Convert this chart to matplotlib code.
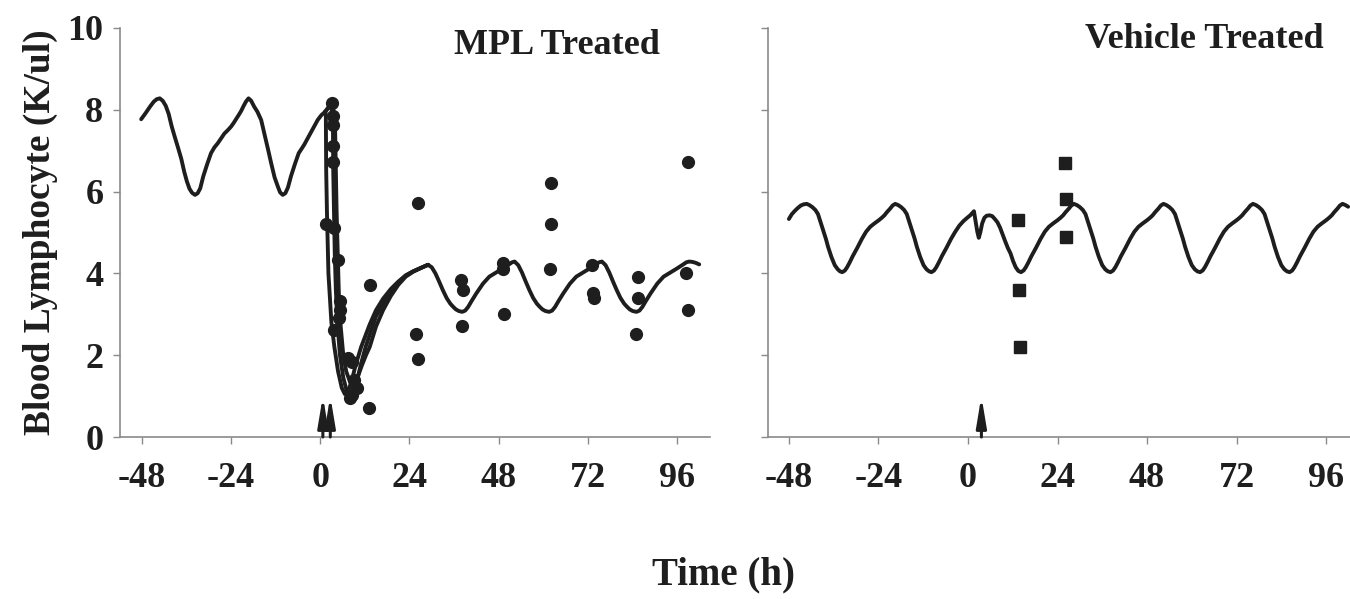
import matplotlib
matplotlib.use("Agg")
import matplotlib.pyplot as plt

plt.rcParams["font.family"] = ["Liberation Serif", "DejaVu Serif"]
plt.rcParams["font.weight"] = "bold"
plt.rcParams["axes.unicode_minus"] = False

# ---- MPL treated panel ----
# model fit before dosing (circadian baseline)
mpl_base_t = [-48.2, -47.0, -45.8, -44.8, -44.0, -43.2, -42.4, -41.6, -40.8, -40.0, -39.2, -38.3,
              -37.4, -36.6, -35.9, -35.2, -34.5, -33.7, -33.0, -32.3, -31.5, -30.4, -29.4,
              -28.5, -27.6, -26.7, -25.8, -24.9, -24.0, -23.3, -22.6, -21.9, -21.3, -20.6,
              -20.0, -19.3, -18.6, -17.8, -16.9, -15.9, -15.0, -14.1, -13.2, -12.3, -11.4,
              -10.8, -10.1, -9.4, -8.7, -7.9, -6.8, -5.8, -5.0, -4.3, -3.4, -2.5, -1.6, -0.7,
              0.3, 1.3]
mpl_base_y = [7.77, 7.92, 8.08, 8.2, 8.26, 8.28, 8.22, 8.1, 7.9, 7.6, 7.35, 7.08,
              6.8, 6.48, 6.25, 6.07, 5.97, 5.92, 5.96, 6.08, 6.37, 6.68, 6.94,
              7.08, 7.18, 7.3, 7.42, 7.5, 7.59, 7.68, 7.78, 7.88, 7.97, 8.1,
              8.2, 8.28, 8.22, 8.08, 7.95, 7.75, 7.4, 7.05, 6.69, 6.35, 6.12,
              5.98, 5.92, 5.96, 6.1, 6.37, 6.68, 6.94, 7.05, 7.15, 7.3, 7.45, 7.6, 7.75,
              7.87, 7.95]

# three post-dose fits (up to convergence)
mpl_fit_a_t = [1.3, 1.5, 1.6, 1.8, 2.2, 3.0, 3.8, 4.8, 5.8, 6.6, 7.4, 8.4, 9.5, 11.0, 13.3,
               15.0, 16.9, 19.0, 21.0, 23.0, 25.0, 27.0, 29.0]
mpl_fit_a_y = [7.95, 7.9, 6.5, 5.5, 4.0, 2.8, 2.2, 1.6, 1.2, 1.05, 1.1, 1.35, 1.75, 2.2, 2.75,
               3.1, 3.38, 3.62, 3.8, 3.95, 4.05, 4.13, 4.21]
mpl_fit_b_t = [1.3, 2.2, 3.0, 3.4, 3.5, 3.7, 3.9, 4.2, 4.6, 5.3, 6.2, 7.2, 8.0, 8.8, 9.8, 11.0,
               12.2, 13.3, 15.0, 16.9, 19.0, 21.0, 23.0, 25.0, 27.0, 29.0]
mpl_fit_b_y = [7.95, 8.05, 8.05, 7.8, 6.5, 5.5, 4.5, 3.6, 2.8, 2.0, 1.45, 1.1, 0.98, 1.05, 1.35,
               1.8, 2.2, 2.5, 2.95, 3.25, 3.55, 3.78, 3.95, 4.05, 4.13, 4.21]
mpl_fit_c_t = [1.3, 2.5, 3.5, 4.0, 4.2, 4.4, 4.7, 5.0, 5.5, 6.2, 7.0, 8.0, 9.0, 10.0, 11.2,
               12.3, 13.3, 15.0, 16.9, 19.0, 21.0, 23.0, 25.0, 27.0, 29.0]
mpl_fit_c_y = [7.95, 8.1, 8.05, 7.5, 6.5, 5.5, 4.5, 3.5, 2.7, 2.0, 1.6, 1.35, 1.3, 1.45, 1.75,
               2.0, 2.2, 2.7, 3.1, 3.45, 3.72, 3.92, 4.04, 4.13, 4.21]

# common tail after the fits converge
mpl_tail_t = [29.0, 30.0, 31.0, 32.0, 33.0, 34.0, 35.0, 35.7, 36.5, 37.3, 38.2, 39.0, 39.8,
              40.7, 42.0, 43.8, 45.5, 47.3, 49.1, 50.8, 51.6, 52.3,
              53.3, 54.3, 55.3, 56.3, 57.3, 58.3, 59.0, 59.8, 60.6, 61.6, 62.4, 63.2,
              64.1, 65.4, 67.2, 68.9, 70.7, 72.5, 74.2, 75.0, 75.8,
              76.8, 77.8, 78.8, 79.8, 80.8, 81.8, 82.5, 83.3, 84.1, 85.1, 85.9, 86.7,
              87.6, 88.9, 90.7, 92.4, 94.2, 96.0, 97.7, 98.5, 99.3, 100.2, 101.0, 102.0]
mpl_tail_y = [4.21, 4.15, 4.0, 3.8, 3.59, 3.4, 3.26, 3.19, 3.12, 3.08, 3.06, 3.09, 3.18,
              3.32, 3.51, 3.75, 3.92, 4.02, 4.12, 4.22, 4.27, 4.29,
              4.2, 4.02, 3.8, 3.59, 3.4, 3.26, 3.19, 3.12, 3.08, 3.06, 3.09, 3.18,
              3.32, 3.51, 3.75, 3.92, 4.02, 4.12, 4.22, 4.27, 4.29,
              4.2, 4.02, 3.8, 3.59, 3.4, 3.26, 3.19, 3.12, 3.08, 3.06, 3.09, 3.18,
              3.32, 3.51, 3.75, 3.92, 4.02, 4.12, 4.22, 4.27, 4.29, 4.28, 4.26, 4.22]

# observed lymphocyte counts (circles)
mpl_obs_t = [3.2, 3.4, 3.5, 3.4, 3.4, 1.5, 3.8, 4.7, 5.4, 5.2, 5.0, 3.6,
             7.4, 8.6, 9.2, 9.8, 8.6, 8.0, 13.4, 13.2,
             26.2, 25.9, 26.4, 38.0, 38.3, 38.2, 49.1, 49.3, 49.5,
             62.1, 62.2, 61.9, 73.2, 73.5, 73.6, 85.6, 85.4, 85.1, 99.1, 98.5, 98.9]
mpl_obs_y = [8.16, 7.85, 7.63, 7.11, 6.72, 5.21, 5.12, 4.33, 3.33, 3.1, 2.9, 2.62,
             1.92, 1.84, 1.39, 1.2, 1.03, 0.95, 3.72, 0.70,
             5.72, 2.51, 1.91, 3.84, 3.59, 2.71, 4.25, 4.1, 3.0,
             6.2, 5.21, 4.1, 4.2, 3.51, 3.4, 3.92, 3.4, 2.51, 6.72, 4.02, 3.1]
mpl_dose_t = [0.7, 2.7]

# ---- Vehicle treated panel ----
veh_fit_t = [-48.0, -47.2, -46.4, -45.6, -44.8, -44.0, -43.2, -42.5, -41.7, -40.9, -40.2, -39.5,
             -38.8, -38.1, -37.5, -36.6, -35.7, -34.9, -34.3, -33.7,
             -33.0, -32.4, -31.7, -30.9, -29.7, -28.4, -27.3, -26.2, -25.1, -23.9, -23.1,
             -22.4, -21.7, -20.9, -20.2, -19.5,
             -18.7, -17.9, -17.1, -16.4, -15.7, -15.0, -14.3, -13.7, -12.8, -11.9, -11.1,
             -10.4, -9.8,
             -9.1, -8.5, -7.8, -7.0, -5.8, -4.5, -3.4, -2.3, -1.2, -0.2, 0.6, 1.2, 1.6,
             2.0, 2.5, 2.9, 3.3, 3.8, 4.4, 5.0, 5.8, 6.5, 7.2, 7.9, 8.6, 9.3, 10.0, 10.7,
             11.4, 12.1, 12.8, 13.5, 14.2,
             14.9, 15.5, 16.2, 17.0, 18.2, 19.5, 20.6, 21.7, 22.8, 24.0, 24.8, 25.5, 26.2,
             27.0, 27.7, 28.4,
             29.2, 30.0, 30.8, 31.5, 32.2, 32.9, 33.6, 34.2, 35.1, 36.0, 36.8, 37.5, 38.2,
             38.9, 39.5, 40.2, 41.0, 42.2, 43.5, 44.6, 45.7, 46.8, 48.0, 48.8, 49.5, 50.2,
             51.0, 51.7, 52.4,
             53.2, 54.0, 54.8, 55.5, 56.2, 56.9, 57.6, 58.2, 59.1, 60.0, 60.8, 61.5, 62.2,
             62.9, 63.5, 64.2, 65.0, 66.2, 67.5, 68.6, 69.7, 70.8, 72.0, 72.8, 73.5, 74.2,
             75.0, 75.7, 76.4,
             77.2, 78.0, 78.8, 79.5, 80.2, 80.9, 81.6, 82.2, 83.1, 84.0, 84.8, 85.5, 86.2,
             86.9, 87.5, 88.2, 89.0, 90.2, 91.5, 92.6, 93.7, 94.8, 96.0, 96.8, 97.5, 98.2,
             99.0, 99.7, 100.4, 101.2, 101.9]
veh_fit_y = [5.33, 5.45, 5.53, 5.6, 5.66, 5.69, 5.7, 5.67, 5.62, 5.55, 5.45, 5.25,
             5.05, 4.85, 4.65, 4.4, 4.2, 4.1, 4.05, 4.03,
             4.07, 4.15, 4.27, 4.42, 4.62, 4.85, 5.02, 5.14, 5.22, 5.3, 5.36,
             5.42, 5.5, 5.58, 5.66, 5.7,
             5.67, 5.62, 5.55, 5.45, 5.25, 5.05, 4.85, 4.65, 4.4, 4.2, 4.1,
             4.05, 4.03,
             4.07, 4.15, 4.27, 4.42, 4.62, 4.85, 5.02, 5.17, 5.28, 5.36, 5.42, 5.48, 5.52,
             5.3, 5.02, 4.87, 5.0, 5.22, 5.36, 5.41, 5.42, 5.4, 5.33, 5.25, 5.12, 4.95, 4.78,
             4.62, 4.49, 4.3, 4.15, 4.06, 4.03,
             4.07, 4.15, 4.27, 4.42, 4.62, 4.85, 5.02, 5.14, 5.22, 5.3, 5.36, 5.42, 5.5,
             5.58, 5.66, 5.7,
             5.67, 5.62, 5.55, 5.45, 5.25, 5.05, 4.85, 4.65, 4.4, 4.2, 4.1, 4.05, 4.03,
             4.07, 4.15, 4.27, 4.42, 4.62, 4.85, 5.02, 5.14, 5.22, 5.3, 5.36, 5.42, 5.5,
             5.58, 5.66, 5.7,
             5.67, 5.62, 5.55, 5.45, 5.25, 5.05, 4.85, 4.65, 4.4, 4.2, 4.1, 4.05, 4.03,
             4.07, 4.15, 4.27, 4.42, 4.62, 4.85, 5.02, 5.14, 5.22, 5.3, 5.36, 5.42, 5.5,
             5.58, 5.66, 5.7,
             5.67, 5.62, 5.55, 5.45, 5.25, 5.05, 4.85, 4.65, 4.4, 4.2, 4.1, 4.05, 4.03,
             4.07, 4.15, 4.27, 4.42, 4.62, 4.85, 5.02, 5.14, 5.22, 5.3, 5.36, 5.42, 5.5,
             5.58, 5.66, 5.7, 5.67, 5.63]
veh_obs_t = [13.5, 13.7, 13.9, 26.1, 26.4, 26.4]
veh_obs_y = [5.31, 3.59, 2.2, 6.71, 5.81, 4.9]
veh_dose_t = [3.6]

x_ticks = [-48, -24, 0, 24, 48, 72, 96]
y_ticks = [0, 2, 4, 6, 8, 10]

ink = "#1e1e1e"
axis_gray = "#8a8a8a"

fig = plt.figure(figsize=(13.5, 5.99), dpi=100)
ax1 = fig.add_axes([120 / 1350, 1 - 437 / 599, 590 / 1350, 409 / 599])
ax2 = fig.add_axes([768 / 1350, 1 - 437 / 599, 582 / 1350, 409 / 599])


def style_axes(ax, xlim, show_ylabels):
    ax.set_xlim(*xlim)
    ax.set_ylim(0, 10)
    ax.set_xticks(x_ticks)
    ax.set_yticks(y_ticks)
    for side in ["top", "right"]:
        ax.spines[side].set_visible(False)
    for side in ["left", "bottom"]:
        ax.spines[side].set_color(axis_gray)
        ax.spines[side].set_linewidth(1.2)
    ax.tick_params(axis="both", direction="out", length=5, width=1, colors=axis_gray,
                   labelcolor=ink, labelsize=26)
    ax.tick_params(axis="x", pad=13)
    ax.tick_params(axis="y", pad=7)
    if not show_ylabels:
        ax.set_yticklabels([])
    for lab in ax.get_xticklabels() + ax.get_yticklabels():
        lab.set_fontweight("bold")
    ax.set_facecolor("none")


def draw_dose_arrows(ax, times):
    for t in times:
        ax.annotate("", xy=(t, 1.0), xytext=(t, 0.0),
                    arrowprops=dict(arrowstyle="-|>,head_length=1.8,head_width=0.3",
                                    color=ink, lw=2.2, shrinkA=0, shrinkB=0,
                                    mutation_scale=10),
                    annotation_clip=False)


line_kw = dict(color=ink, lw=2.8, solid_capstyle="round", solid_joinstyle="round")

# left panel
ax1.plot(mpl_base_t, mpl_base_y, **line_kw)
ax1.plot(mpl_fit_a_t, mpl_fit_a_y, **line_kw)
ax1.plot(mpl_fit_b_t, mpl_fit_b_y, **line_kw)
ax1.plot(mpl_fit_c_t, mpl_fit_c_y, **line_kw)
ax1.plot(mpl_tail_t, mpl_tail_y, **line_kw)
ax1.plot(mpl_obs_t, mpl_obs_y, "o", color=ink, ms=8.5, mec=ink)
draw_dose_arrows(ax1, mpl_dose_t)
style_axes(ax1, (-53.9, 104.9), True)

# right panel
ax2.plot(veh_fit_t, veh_fit_y, **line_kw)
ax2.plot(veh_obs_t, veh_obs_y, "s", color=ink, ms=8.5, mec=ink)
draw_dose_arrows(ax2, veh_dose_t)
style_axes(ax2, (-53.6, 102.4), False)

fig.text(557 / 1350, 1 - 45 / 599, "MPL Treated", ha="center", va="center",
         fontsize=26, fontweight="bold", color=ink)
fig.text(1204 / 1350, 1 - 40 / 599, "Vehicle Treated", ha="center", va="center",
         fontsize=26, fontweight="bold", color=ink)
fig.text(40 / 1350, 1 - 232 / 599, "Blood Lymphocyte (K/ul)", rotation=90,
         ha="center", va="center", fontsize=27, fontweight="bold", color=ink)
fig.text(723 / 1350, 1 - 575 / 599, "Time (h)", ha="center", va="center",
         fontsize=28, fontweight="bold", color=ink)

fig.savefig("out.png", dpi=100, facecolor="white")
